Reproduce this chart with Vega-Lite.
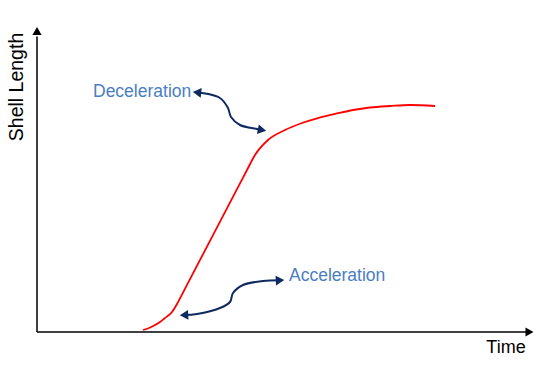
{
  "$schema": "https://vega.github.io/schema/vega-lite/v6.json",
  "width": 550,
  "height": 365,
  "autosize": {"type": "fit", "contains": "padding"},
  "padding": 0,
  "background": "white",
  "config": {"view": {"stroke": null}},
  "datasets": {
    "growth": [
      {"t": 21.2, "len": 0.67}, {"t": 22.4, "len": 1.33}, {"t": 23.6, "len": 2.33},
      {"t": 24.6, "len": 3.33}, {"t": 25.6, "len": 4.67}, {"t": 26.4, "len": 5.67},
      {"t": 27.0, "len": 6.67}, {"t": 28.0, "len": 9.33}, {"t": 29.4, "len": 13.8},
      {"t": 40.6, "len": 49.53}, {"t": 42.0, "len": 54.0}, {"t": 43.6, "len": 59.0},
      {"t": 46.2, "len": 64.0}, {"t": 49.6, "len": 67.33}, {"t": 53.0, "len": 69.67},
      {"t": 56.2, "len": 71.33}, {"t": 59.6, "len": 72.67}, {"t": 63.2, "len": 74.0},
      {"t": 66.6, "len": 74.83}, {"t": 70.6, "len": 75.33}, {"t": 74.6, "len": 75.67},
      {"t": 79.6, "len": 75.33}
    ],
    "axes": [
      {"t": 0, "len": 0, "t2": 0, "len2": 98.5},
      {"t": 0, "len": 0, "t2": 97.8, "len2": 0}
    ],
    "annot": [
      {"g": "dec", "t": 32.0, "len": 79.83}, {"g": "dec", "t": 33.0, "len": 79.67},
      {"g": "dec", "t": 36.6, "len": 78.0}, {"g": "dec", "t": 38.2, "len": 74.67},
      {"g": "dec", "t": 38.8, "len": 71.67}, {"g": "dec", "t": 40.6, "len": 69.0},
      {"g": "dec", "t": 44.0, "len": 67.67}, {"g": "dec", "t": 45.0, "len": 67.33},
      {"g": "acc", "t": 29.4, "len": 5.67}, {"g": "acc", "t": 32.0, "len": 6.0},
      {"g": "acc", "t": 36.6, "len": 8.0}, {"g": "acc", "t": 38.6, "len": 10.0},
      {"g": "acc", "t": 39.2, "len": 13.0}, {"g": "acc", "t": 41.2, "len": 15.67},
      {"g": "acc", "t": 45.2, "len": 17.0}, {"g": "acc", "t": 48.6, "len": 17.23}
    ]
  },
  "encoding": {
    "x": {"type": "quantitative", "scale": {"domain": [-7.4, 102.6], "nice": false, "zero": false}, "axis": null},
    "y": {"type": "quantitative", "scale": {"domain": [-11, 110.667], "nice": false, "zero": false}, "axis": null}
  },
  "layer": [
    {
      "data": {"name": "axes"},
      "mark": {"type": "rule", "color": "black", "strokeWidth": 1.5},
      "encoding": {"x": {"field": "t", "type": "quantitative"}, "y": {"field": "len", "type": "quantitative"}, "x2": {"field": "t2"}, "y2": {"field": "len2"}}
    },
    {
      "data": {"values": [{"t": 0, "len": 100.3}]},
      "mark": {"type": "point", "shape": "triangle-up", "filled": true, "color": "black", "size": 85, "opacity": 1},
      "encoding": {"x": {"field": "t", "type": "quantitative"}, "y": {"field": "len", "type": "quantitative"}}
    },
    {
      "data": {"values": [{"t": 98.5, "len": 0}]},
      "mark": {"type": "point", "shape": "triangle-right", "filled": true, "color": "black", "size": 85, "opacity": 1},
      "encoding": {"x": {"field": "t", "type": "quantitative"}, "y": {"field": "len", "type": "quantitative"}}
    },
    {
      "data": {"name": "growth"},
      "mark": {"type": "line", "color": "#ff0000", "strokeWidth": 1.8, "interpolate": "monotone"},
      "encoding": {"x": {"field": "t", "type": "quantitative"}, "y": {"field": "len", "type": "quantitative"}}
    },
    {
      "data": {"name": "annot"},
      "mark": {"type": "line", "color": "#0f2a60", "strokeWidth": 2, "interpolate": "catmull-rom"},
      "encoding": {"x": {"field": "t", "type": "quantitative"}, "y": {"field": "len", "type": "quantitative"}, "detail": {"field": "g"}}
    },
    {
      "data": {"values": [{"t": 32.0, "len": 79.83}]},
      "mark": {"type": "point", "shape": "triangle-right", "filled": true, "color": "#0f2a60", "size": 95, "opacity": 1, "angle": 186},
      "encoding": {"x": {"field": "t", "type": "quantitative"}, "y": {"field": "len", "type": "quantitative"}}
    },
    {
      "data": {"values": [{"t": 45.0, "len": 67.33}]},
      "mark": {"type": "point", "shape": "triangle-right", "filled": true, "color": "#0f2a60", "size": 95, "opacity": 1, "angle": 11},
      "encoding": {"x": {"field": "t", "type": "quantitative"}, "y": {"field": "len", "type": "quantitative"}}
    },
    {
      "data": {"values": [{"t": 29.4, "len": 5.67}]},
      "mark": {"type": "point", "shape": "triangle-right", "filled": true, "color": "#0f2a60", "size": 95, "opacity": 1, "angle": 177},
      "encoding": {"x": {"field": "t", "type": "quantitative"}, "y": {"field": "len", "type": "quantitative"}}
    },
    {
      "data": {"values": [{"t": 48.6, "len": 17.23}]},
      "mark": {"type": "point", "shape": "triangle-right", "filled": true, "color": "#0f2a60", "size": 95, "opacity": 1, "angle": 357},
      "encoding": {"x": {"field": "t", "type": "quantitative"}, "y": {"field": "len", "type": "quantitative"}}
    },
    {
      "data": {"values": [{"t": 11.2, "len": 80.0, "label": "Deceleration"}, {"t": 50.4, "len": 18.67, "label": "Acceleration"}]},
      "mark": {"type": "text", "align": "left", "baseline": "middle", "font": "Liberation Sans", "fontSize": 17.5, "color": "#4a7ebf"},
      "encoding": {"x": {"field": "t", "type": "quantitative"}, "y": {"field": "len", "type": "quantitative"}, "text": {"field": "label"}}
    },
    {
      "data": {"values": [{"t": 93.8, "len": -5.33, "label": "Time"}]},
      "mark": {"type": "text", "align": "center", "baseline": "middle", "font": "Liberation Sans", "fontSize": 18, "color": "black"},
      "encoding": {"x": {"field": "t", "type": "quantitative"}, "y": {"field": "len", "type": "quantitative"}, "text": {"field": "label"}}
    },
    {
      "data": {"values": [{"t": -4.0, "len": 81.67, "label": "Shell Length"}]},
      "mark": {"type": "text", "align": "center", "baseline": "middle", "font": "Liberation Sans", "fontSize": 19.5, "angle": 270, "color": "black"},
      "encoding": {"x": {"field": "t", "type": "quantitative"}, "y": {"field": "len", "type": "quantitative"}, "text": {"field": "label"}}
    }
  ]
}
